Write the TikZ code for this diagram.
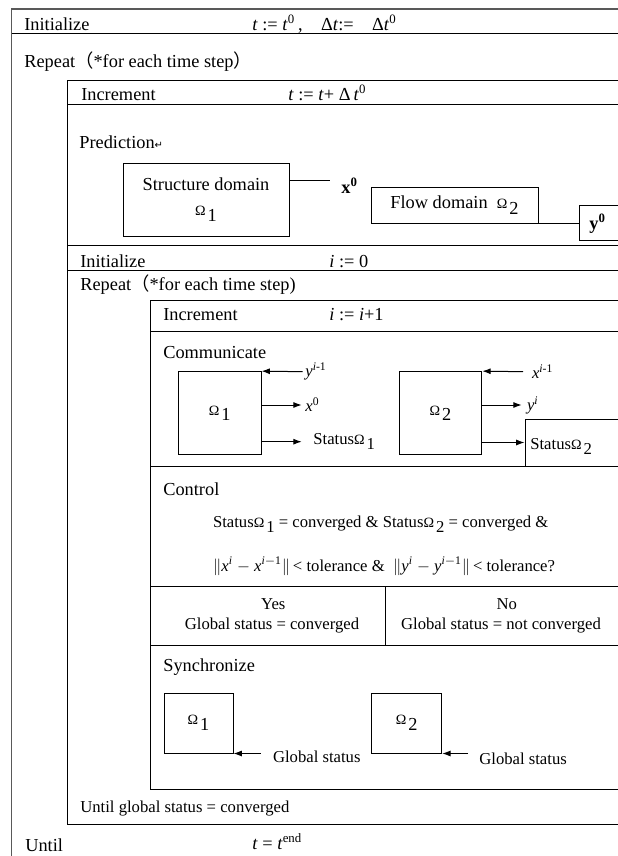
\documentclass[tikz,border=0pt]{standalone}
\usepackage{fontspec}
\setmainfont{Liberation Serif}
\newfontfamily\cjkfont{Noto Sans CJK SC}
\newfontfamily\symfont{DejaVu Sans}
\usetikzlibrary{arrows.meta}
\newcommand{\Om}[1]{{\fontsize{8.5}{8.5}\selectfont Ω}\kern1.2pt\raisebox{-0.7ex}{#1}}
\newcommand{\nrm}{\ensuremath{\Vert}}

\begin{document}
\begin{tikzpicture}[
    x=0.6pt, y=-0.6pt,
    every node/.append style={font=\fontsize{10}{12}\selectfont},
    head/.style={anchor=base west, inner sep=0, font=\fontsize{11}{13}\selectfont},
    note/.style={anchor=base west, inner sep=0},
    tag/.style={anchor=west, inner ysep=0},
    rule/.style={line width=0.6pt},
    frame/.style={line width=1pt, black!65},
    dombox/.style={rectangle, draw, line width=0.6pt, inner sep=0, align=center, font=\fontsize{11}{13}\selectfont},
    arr/.style={-{Latex[length=5pt,width=3.6pt]}, line width=0.6pt}
]
    \useasboundingbox (0,0) rectangle (618,856);
    \clip (0,0) rectangle (618,856);

    % Rahmen
    \draw[frame] (650,9.3) -- (11.5,9.3) -- (11.5,870);
    \draw[rule] (11.5,33.3) -- (650,33.3);
    \draw[rule] (650,80) -- (67.5,80) -- (67.5,824) -- (650,824);
    \draw[rule] (67.5,104.3) -- (650,104.3);
    \draw[rule] (67.5,245.5) -- (650,245.5);
    \draw[rule] (67.5,270.5) -- (650,270.5);
    \draw[rule] (650,300) -- (150.5,300) -- (150.5,789) -- (650,789);
    \draw[rule] (150.5,331) -- (650,331);
    \draw[rule] (150.5,466) -- (650,466);
    \draw[rule] (150.5,586) -- (650,586);
    \draw[rule] (385.7,586) -- (385.7,645);
    \draw[rule] (150.5,645) -- (650,645);

    % Zeitschritt
    \node[head] (iniOuter) at (24,30) {Initialize};
    \node[head] (iniOuterVal) at (252,30) {\textit{t} := \textit{t}\textsuperscript{0}\,,\quad Δ\textit{t}:=\quad Δ\textit{t}\textsuperscript{0}};
    \node[head] (repOuter) at (24,67) {Repeat{\cjkfont （}*for each time step{\cjkfont ）}};
    \node[head] (incT) at (81,100) {Increment};
    \node[head] (incTVal) at (288,100) {\textit{t} := \textit{t}+ Δ\,\textit{t}\textsuperscript{0}};

    % Prediction
    \node[head] (pred) at (79,148) {Prediction{\symfont\fontsize{6}{6}\selectfont ↵}};
    \node[dombox, minimum width=99.6pt, minimum height=43.6pt] (boxStructure) at (206,199.7) {Structure domain\\[2pt]\Om{1}};
    \node[dombox, minimum width=100.2pt, minimum height=21.4pt] (boxFlow) at (454.5,205.5) {Flow domain\ \ \Om{2}};
    \node[dombox, minimum width=48.6pt, minimum height=21pt] (boxYzero) at (619.5,222.5) {};
    \coordinate (xzeroEnd) at (330,180.7);
    \node[note, font=\fontsize{11}{13}\selectfont\bfseries] (labXzero) at (341,193) {x\textsuperscript{0}};
    \node[note, font=\fontsize{11}{13}\selectfont\bfseries] (labYzero) at (589,229) {y\textsuperscript{0}};
    \draw[rule] (boxStructure.east |- xzeroEnd) -- (xzeroEnd);
    \draw[rule] (boxFlow.south east) -- (boxYzero.west |- boxFlow.south east);

    % Iteration
    \node[head] (iniIt) at (80,267.5) {Initialize};
    \node[head] (iniItVal) at (329,267.5) {\textit{i} := 0};
    \node[head] (repIt) at (80,290) {Repeat{\cjkfont （}*for each time step)};
    \node[head] (incI) at (163,320) {Increment};
    \node[head] (incIVal) at (329,320) {\textit{i} := \textit{i}+1};

    % Communicate
    \node[head] (comm) at (163,358) {Communicate};
    \node[dombox, minimum width=49.6pt, minimum height=50pt] (commOmA) at (219.7,413.3) {\Om{1}};
    \node[dombox, minimum width=49.6pt, minimum height=50pt] (commOmB) at (440.5,413.3) {\Om{2}};
    \node[tag, inner xsep=1.4pt] (labYprev) at (302.7,371.7) {\textit{y}\textsuperscript{\textit{i}-1}};
    \node[tag, inner xsep=2pt] (labXzeroC) at (301.7,405) {\textit{x}\textsuperscript{0}};
    \node[tag, inner xsep=6.8pt] (labStatA) at (301.7,441.7) {Status\Om{1}};
    \draw[arr] (labYprev.west) -- (commOmA.north east);
    \draw[arr] (commOmA.east |- labXzeroC.west) -- (labXzeroC.west);
    \draw[arr] (commOmA.east |- labStatA.west) -- (labStatA.west);
    \node[tag, inner xsep=5.2pt] (labXprev) at (523,371.7) {\textit{x}\textsuperscript{\textit{i}-1}};
    \node[tag, inner xsep=3pt] (labYi) at (521.7,405) {\textit{y}\textsuperscript{\textit{i}}};
    \node[draw, rule, minimum width=81pt, minimum height=28.2pt, inner sep=0] (boxStatB) at (592.5,442.5) {};
    \node[note] (labStatB) at (530,449) {Status\Om{2}};
    \draw[arr] (labXprev.west) -- (commOmB.north east);
    \draw[arr] (commOmB.east |- labYi.west) -- (labYi.west);
    \draw[arr] (commOmB.east |- boxStatB.west) -- (boxStatB.west);

    % Control
    \node[head] (ctrl) at (163,495) {Control};
    \node[note] (condA) at (212.7,527) {Status\Om{1} = converged \& Status\Om{2} = converged \&};
    \node[note] (condB) at (212.7,571) {\nrm\textit{x}\textsuperscript{\textit{i}} $-$ \textit{x}\textsuperscript{\textit{i}$-$1}\nrm\,< tolerance \&\ \ \nrm\textit{y}\textsuperscript{\textit{i}} $-$ \textit{y}\textsuperscript{\textit{i}$-$1}\nrm\,< tolerance?};
    \node (yes) at (273.3,604) {Yes};
    \node (no) at (506.7,604) {No};
    \node (globYes) at (272,626) {Global status = converged};
    \node (globNo) at (501,626) {Global status = not converged};

    % Synchronize
    \node[head] (sync) at (163,671) {Synchronize};
    \node[dombox, minimum width=41.4pt, minimum height=36pt] (syncOmA) at (198.5,723) {\Om{1}};
    \node[dombox, minimum width=42pt, minimum height=36pt] (syncOmB) at (406.7,723) {\Om{2}};
    \node[tag, inner xsep=7.2pt] (labGlobA) at (260.7,756.7) {Global status};
    \node[tag, inner xsep=6.6pt] (labGlobB) at (468,759) {Global status};
    \draw[arr] (syncOmA.south east -| labGlobA.west) -- (syncOmA.south east);
    \draw[arr] (syncOmB.south east -| labGlobB.west) -- (syncOmB.south east);

    % Until
    \node[note] (untilIt) at (80,812) {Until global status = converged};
    \node[head] (untilOuter) at (25,851) {Until};
    \node[head] (untilOuterVal) at (252,849) {\textit{t} = \textit{t}\textsuperscript{end}};
\end{tikzpicture}
\end{document}
